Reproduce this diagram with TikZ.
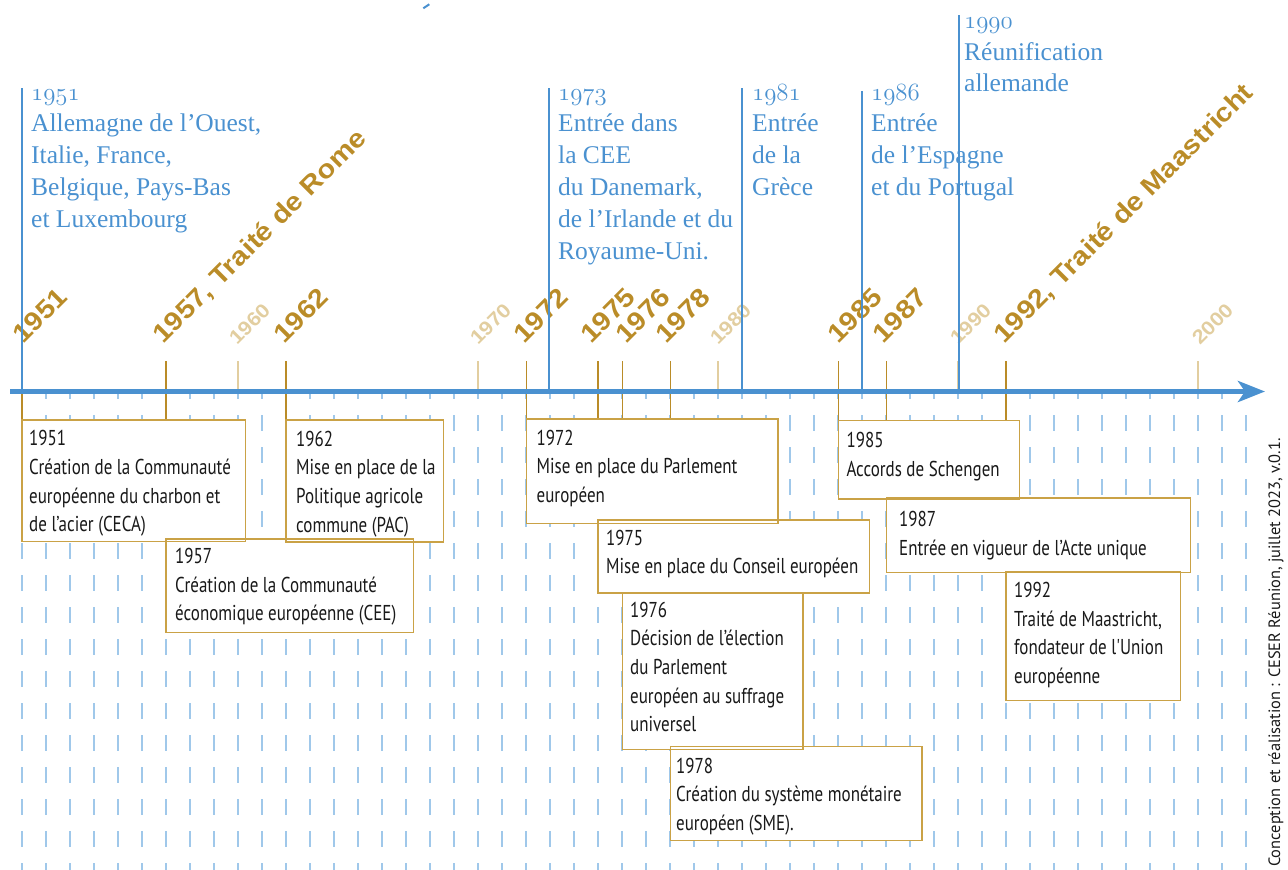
\documentclass[tikz,border=0pt]{standalone}
\usepackage{fontspec}
\usetikzlibrary{arrows.meta}
\setmainfont{Liberation Serif}
\newfontfamily\evfont[FakeStretch=0.79]{PT Sans}
\newfontfamily\yrfont[FakeStretch=1.12]{Liberation Sans}
\newfontfamily\credfont{PT Sans}
\definecolor{axisblue}{RGB}{74,145,208}
\definecolor{dashblue}{RGB}{160,200,234}
\definecolor{gold}{RGB}{186,140,40}
\definecolor{lightgold}{RGB}{226,206,160}
\definecolor{boxgold}{RGB}{202,162,70}
\definecolor{evink}{RGB}{25,25,25}
\pgfdeclarelayer{under}
\pgfsetlayers{under,main}
% old-style figures for the accession dates
\newcommand\osn[1]{{\usefont{OML}{cmm}{m}{it}#1}}
% event box: name, x1, y1, x2, y2, text offset x, first baseline offset, text
\newcommand\eventbox[8]{%
  \node[evfill, anchor=north west, minimum width={(#4-#2)*1bp}, minimum height={(#5-#3)*1bp}] (#1) at (#2,#3) {};
  \node[evtext, anchor=base west] (#1t) at ([shift={(#6,#7)}]#1.north west) {\parbox[t]{330bp}{\raggedright #8}};
}
\tikzset{
  dashln/.style={draw=dashblue, line width=1.7bp, dash pattern=on 16bp off 16bp, dash phase=8.2bp},
  tickln/.style={draw=lightgold, line width=1.3bp},
  goldln/.style={draw=gold, line width=1.3bp},
  eventln/.style={draw=axisblue, line width=1.3bp},
  axisln/.style={draw=axisblue, line width=5bp, -{Stealth[length=27bp,width=21bp,inset=7bp]}},
  evfill/.style={fill=white, draw=none, inner sep=0},
  evborder/.style={draw=boxgold, line width=1.5bp},
  evtext/.style={font=\evfont\fontsize{21.5bp}{28.7bp}\selectfont, text=evink, inner sep=0},
  yrbold/.style={font=\yrfont\bfseries\fontsize{26bp}{30bp}\selectfont, text=gold, inner sep=0, anchor=base west, rotate=45},
  yrlight/.style={font=\yrfont\bfseries\fontsize{19.5bp}{22bp}\selectfont, text=lightgold, inner sep=0, anchor=base west, rotate=45},
  bluetext/.style={font=\fontsize{25.5bp}{31.8bp}\selectfont, text=axisblue, inner sep=0, anchor=base west},
  credtext/.style={font=\credfont\fontsize{16.4bp}{18bp}\selectfont, text=evink, inner sep=0, anchor=base west, rotate=90},
}
\begin{document}
\begin{tikzpicture}[x=1bp, y=-1bp]
\useasboundingbox (0,0) rectangle (1288,870);

% event boxes (white fill and text)
\eventbox{b92}{1006}{572}{1180.3}{700}{8}{25.5}{1992\\Traité de Maastricht,\\fondateur de l'Union\\européenne}
\eventbox{b87}{886.5}{498}{1190}{572.3}{12.5}{28.5}{1987\\Entrée en vigueur de l’Acte unique}
\eventbox{b85}{838.3}{420.7}{1019}{498.7}{8}{27}{1985\\Accords de Schengen}
\eventbox{b78}{670.5}{746.7}{921.7}{840}{5.5}{26.5}{1978\\Création du système monétaire\\européen (SME).}
\eventbox{b76}{622.5}{593}{802.7}{749}{7.5}{24}{1976\\Décision de l’élection\\du Parlement\\européen au suffrage\\universel}
\eventbox{b75}{598}{520}{869}{592.7}{8}{25}{1975\\Mise en place du Conseil européen}
\eventbox{b72}{526.5}{419}{777.7}{523}{10}{26}{1972\\Mise en place du Parlement\\européen}
\eventbox{b62}{286}{420}{443.3}{541.7}{10}{26}{1962\\Mise en place de la\\Politique agricole\\commune (PAC)}
\eventbox{b57}{166}{539}{413}{632}{9}{24.5}{1957\\Création de la Communauté\\économique européenne (CEE)}
\eventbox{b51}{22}{420}{245}{541}{7}{25.7}{1951\\Création de la Communauté\\européenne du charbon et\\de l’acier (CECA)}

% box outlines, all drawn after the fills
\foreach \b in {b92,b87,b85,b78,b76,b75,b72,b62,b57,b51} {
  \draw[evborder] (\b.north west) rectangle (\b.south east);
}

\begin{pgfonlayer}{under}
  % yearly dashed guides below the axis
  \foreach \k in {0,...,51} {
    \draw[dashln] ({22+24*\k},391.5) -- ({22+24*\k},870);
  }
  % decade ticks above the axis
  \foreach \x/\n in {238/60, 478/70, 718/80, 958/90, 1198/00} {
    \coordinate (tt\n) at (\x,361);
    \coordinate (tb\n) at (\x,391.5);
    \draw[tickln] (tt\n) -- (tb\n);
  }
  % gold connectors from above the axis down to each box
  \foreach \x/\n in {22/51, 166/57, 286/62, 526.5/72, 598/75, 622.5/76, 670.5/78, 838.3/85, 886.5/87, 1006/92} {
    \coordinate (g\n) at (\x,361);
    \draw[goldln] (g\n) -- (b\n.north west);
  }
  % time axis
  \coordinate (axL) at (10,391.5);
  \coordinate (axR) at (1265,391.5);
  \draw[axisln] (axL) -- (axR);
\end{pgfonlayer}

% slanted year labels
\node[yrbold] (y51) at (23,345) {1951};
\node[yrbold] (y57) at (163,345) {1957, Traité de Rome};
\node[yrbold] (y62) at (284,345) {1962};
\node[yrbold] (y72) at (524,345) {1972};
\node[yrbold] (y75) at (591,345) {1975};
\node[yrbold] (y76) at (626,345) {1976};
\node[yrbold] (y78) at (666,345) {1978};
\node[yrbold] (y85) at (838,345) {1985};
\node[yrbold] (y87) at (883,345) {1987};
\node[yrbold] (y92) at (1004,345) {1992, Traité de Maastricht};
\node[yrlight] (y60) at (237,346) {1960};
\node[yrlight] (y70) at (478,346) {1970};
\node[yrlight] (y80) at (718,346) {1980};
\node[yrlight] (y90) at (958,346) {1990};
\node[yrlight] (y00) at (1200,346) {2000};

% enlargement notes
\node[bluetext] (e51) at (31,100) {\parbox[t]{330bp}{\raggedright \osn{1951}\\Allemagne de l’Ouest,\\Italie, France,\\Belgique, Pays-Bas\\et Luxembourg}};
\node[bluetext] (e73) at (558,100) {\parbox[t]{330bp}{\raggedright \osn{1973}\\Entrée dans\\la CEE\\du Danemark,\\de l’Irlande et du\\Royaume-Uni.}};
\node[bluetext] (e81) at (752,100) {\parbox[t]{330bp}{\raggedright \osn{1981}\\Entrée\\de la\\Grèce}};
\node[bluetext] (e86) at (871,100) {\parbox[t]{330bp}{\raggedright \osn{1986}\\Entrée\\de l’Espagne\\et du Portugal}};
\node[bluetext] (e90) at (964,28.3) {\parbox[t]{330bp}{\raggedright \osn{1990}\\Réunification\\allemande}};

% enlargement markers
\foreach \x/\t/\n in {22/88/51, 549/88/73, 742/88/81, 862/91/86, 959/15/90} {
  \coordinate (m\n) at (\x,\t);
  \coordinate (a\n) at (\x,391.5);
  \draw[eventln] (m\n) -- (a\n);
}

% stray stroke at the top edge
\coordinate (s1) at (423.3,8.3);
\coordinate (s2) at (429.3,4.3);
\draw[draw=axisblue, line width=2bp] (s1) -- (s2);

% credit line
\node[credtext] (cred) at (1280,867) {Conception et réalisation : CESER Réunion, juillet 2023, v.0.1.};
\end{tikzpicture}
\end{document}
